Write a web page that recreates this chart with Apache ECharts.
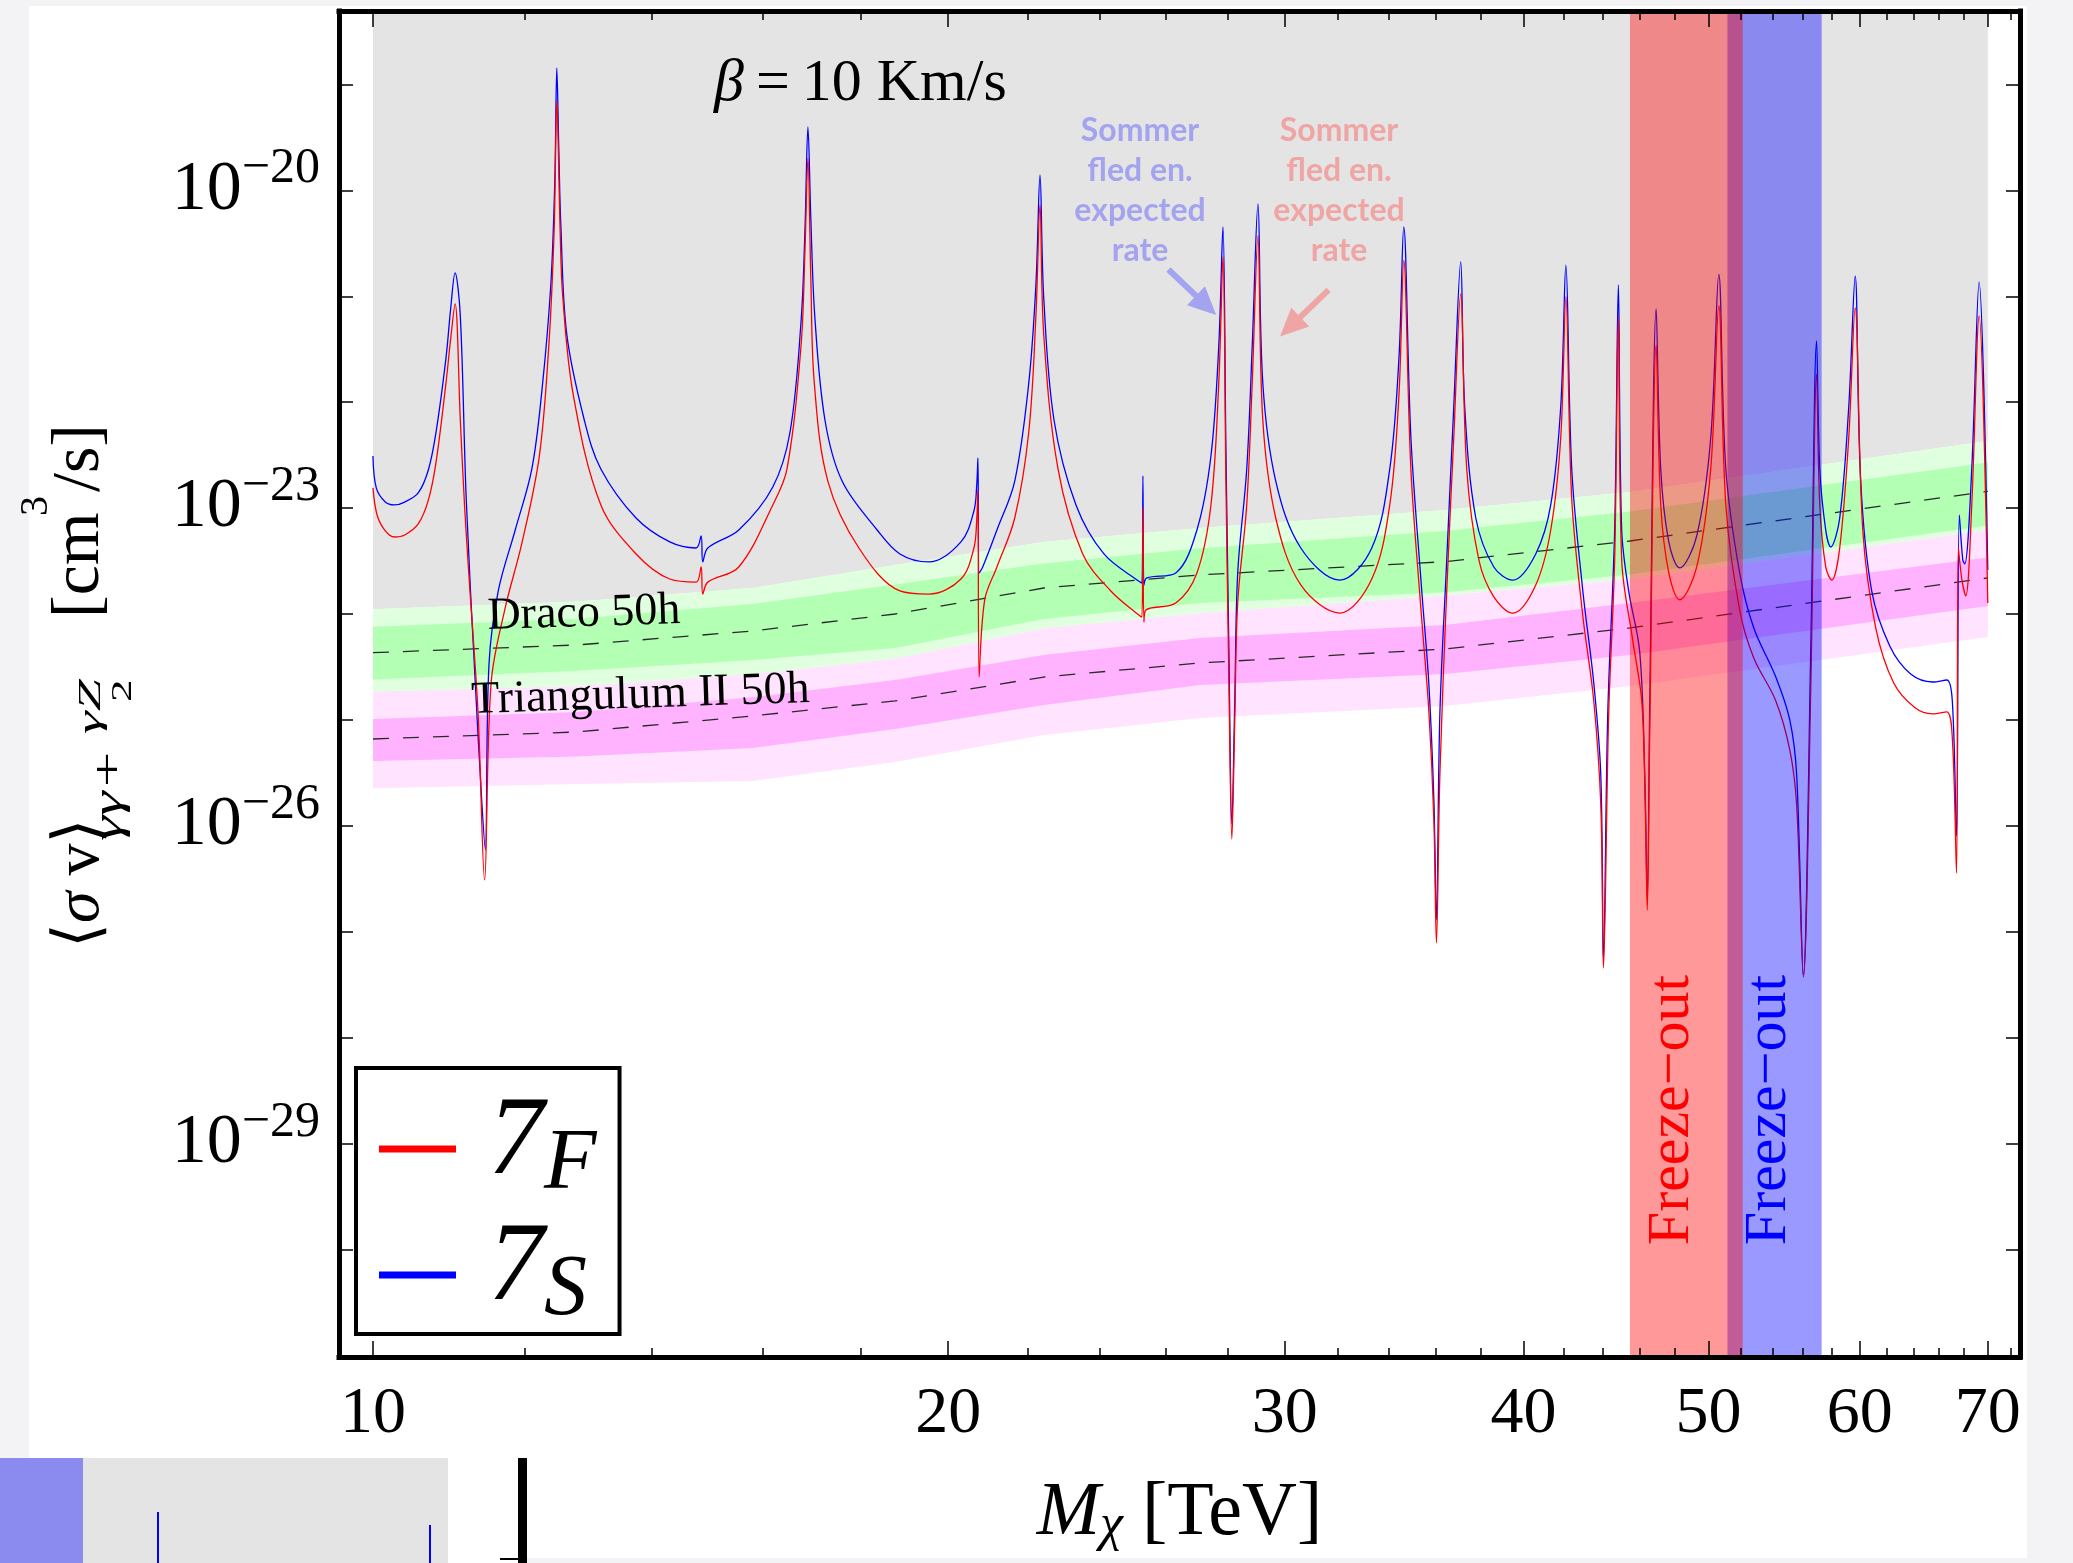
<!DOCTYPE html>
<html>
<head>
<meta charset="utf-8">
<script src="https://cdn.jsdelivr.net/npm/echarts@6/dist/echarts.min.js"></script>
<style>
  html, body { margin: 0; padding: 0; background: #f3f3f5; }
  #chart { width: 2073px; height: 1563px; }
</style>
</head>
<body>
<div id="chart"></div>
<script>
// Annihilation rate <sigma v> (cm^3/s) versus dark matter mass M (TeV), beta = 10 km/s.
// Each curve is a list of [mass, rate] pairs.
const sevenS = [
  [10.00,3.10e-23],[10.04,1.55e-23],[10.15,1.14e-23],[10.26,1.07e-23],[10.39,1.14e-23],[10.56,1.39e-23],
  [10.69,2.29e-23],[10.79,5.23e-23],[10.92,2.62e-22],[10.98,7.42e-22],[11.04,1.66e-21],[11.11,6.52e-22],
  [11.19,1.19e-23],[11.31,2.38e-25],[11.40,1.75e-26],[11.45,5.91e-27],[11.50,3.30e-25],[11.63,1.65e-24],
  [11.87,6.21e-24],[12.11,2.34e-23],[12.26,1.33e-22],[12.39,1.28e-21],[12.45,1.25e-20],[12.48,1.43e-19],
  [12.51,2.41e-20],[12.54,4.82e-21],[12.63,4.41e-22],[12.90,6.79e-23],[13.16,2.34e-23],[13.73,8.06e-24],
  [14.30,4.79e-24],[14.76,4.20e-24],[14.85,5.45e-24],[14.88,3.10e-24],[14.97,4.20e-24],[15.54,6.21e-24],
  [16.19,1.58e-23],[16.53,5.23e-23],[16.75,5.72e-22],[16.83,4.23e-21],[16.89,3.97e-20],[16.95,5.25e-21],
  [17.03,6.52e-22],[17.24,6.79e-23],[17.60,1.80e-23],[18.36,6.21e-24],[18.87,3.69e-24],[19.54,3.10e-24],
  [20.31,4.79e-24],[20.63,9.39e-24],[20.70,1.65e-23],[20.73,2.97e-23],[20.76,2.44e-24],[20.85,2.78e-24],
  [21.21,6.21e-24],[21.67,1.80e-23],[22.04,1.52e-22],[22.23,1.28e-21],[22.34,1.40e-20],[22.44,9.85e-22],
  [22.72,6.79e-23],[23.33,1.07e-23],[24.13,3.69e-24],[25.20,2.00e-24],[25.26,1.96e-24],[25.29,2.01e-23],
  [25.32,1.88e-24],[25.41,2.19e-24],[26.31,2.44e-24],[26.99,6.21e-24],[27.45,3.10e-23],[27.71,3.39e-22],
  [27.85,4.51e-21],[27.95,3.54e-23],[28.05,4.57e-25],[28.15,1.04e-26],[28.25,1.54e-25],[28.35,2.44e-24],
  [28.66,2.34e-23],[28.85,3.39e-22],[29.05,7.44e-21],[29.22,1.52e-22],[29.68,1.80e-23],[30.59,4.20e-24],
  [32.06,2.09e-24],[33.32,4.20e-24],[34.05,2.34e-23],[34.43,2.62e-22],[34.63,4.51e-21],[34.93,4.59e-23],
  [35.39,1.65e-24],[35.69,2.23e-25],[35.91,1.75e-26],[36.02,1.29e-27],[36.17,1.14e-25],[36.47,3.24e-24],
  [36.78,9.01e-23],[37.09,2.11e-21],[37.27,9.01e-23],[37.77,8.06e-24],[38.60,2.78e-24],[39.49,2.09e-24],
  [40.60,3.69e-24],[41.34,1.07e-23],[41.84,9.01e-23],[42.10,1.97e-21],[42.40,2.34e-23],[42.97,1.65e-24],
  [43.54,2.23e-25],[43.91,3.02e-26],[44.05,5.40e-28],[44.28,1.14e-25],[44.65,6.21e-24],[44.85,1.28e-21],
  [45.03,6.21e-24],[45.41,1.65e-24],[46.02,4.38e-25],[46.30,3.02e-26],[46.44,1.99e-27],[46.58,1.54e-25],
  [46.94,7.59e-22],[47.20,2.34e-23],[47.66,4.79e-24],[48.29,2.72e-24],[49.29,5.45e-24],[50.13,4.59e-23],
  [50.62,1.61e-21],[51.05,2.34e-23],[51.91,2.44e-24],[52.80,7.37e-25],[54.22,2.54e-25],[55.14,9.98e-26],
  [55.60,3.02e-26],[56.05,3.90e-28],[56.55,4.38e-25],[56.95,3.78e-22],[57.17,2.34e-23],[57.58,6.21e-24],
  [57.93,4.29e-24],[58.56,8.06e-24],[59.20,9.01e-23],[59.66,1.55e-21],[60.06,1.80e-23],[60.86,1.65e-24],
  [62.20,4.99e-25],[63.79,2.71e-25],[65.51,2.28e-25],[66.62,2.38e-25],[67.07,1.51e-25],[67.41,8.01e-27],
  [67.64,8.61e-24],[67.92,3.24e-24],[68.08,2.97e-24],[68.66,2.34e-23],[69.27,1.36e-21],[70.00,2.60e-24]
];

const sevenF = [
  [10.00,1.55e-23],[10.05,8.61e-24],[10.15,6.08e-24],[10.26,5.33e-24],[10.39,5.57e-24],[10.56,7.08e-24],
  [10.69,1.19e-23],[10.79,2.72e-23],[10.92,1.52e-22],[10.98,3.87e-22],[11.04,8.46e-22],[11.11,6.79e-23],
  [11.17,9.59e-24],[11.24,1.65e-24],[11.35,1.16e-25],[11.44,3.08e-27],[11.53,2.23e-25],[11.72,1.09e-24],
  [11.97,4.79e-24],[12.22,3.10e-23],[12.36,3.39e-22],[12.44,4.23e-21],[12.48,6.98e-20],[12.53,4.23e-21],
  [12.57,9.85e-22],[12.73,1.17e-22],[13.16,1.07e-23],[13.73,3.69e-24],[14.30,2.14e-24],[14.76,2.00e-24],
  [14.85,2.78e-24],[14.88,1.54e-24],[14.97,2.00e-24],[15.54,2.78e-24],[16.19,1.07e-23],[16.47,2.34e-23],
  [16.75,3.39e-22],[16.83,2.74e-21],[16.89,2.02e-20],[16.95,1.43e-21],[17.02,1.52e-22],[17.30,1.80e-23],
  [17.96,4.20e-24],[18.87,1.65e-24],[19.54,1.54e-24],[20.31,2.14e-24],[20.63,4.20e-24],[20.70,7.72e-24],
  [20.73,1.48e-23],[20.76,2.54e-25],[20.90,1.36e-24],[21.21,2.78e-24],[21.67,8.06e-24],[22.04,5.23e-23],
  [22.23,6.52e-22],[22.34,7.28e-21],[22.44,4.41e-22],[22.83,2.34e-23],[23.52,3.69e-24],[24.33,1.65e-24],
  [25.20,9.57e-25],[25.26,9.37e-25],[25.29,1.00e-23],[25.32,8.40e-25],[25.38,1.09e-24],[26.31,1.27e-24],
  [26.99,2.44e-24],[27.45,1.07e-23],[27.71,1.52e-22],[27.85,2.35e-21],[27.95,1.84e-23],[28.05,2.38e-25],
  [28.15,7.50e-27],[28.25,9.98e-26],[28.35,1.27e-24],[28.66,1.07e-23],[28.85,1.52e-22],[29.05,3.71e-21],
  [29.22,6.79e-23],[29.68,8.06e-24],[30.59,1.88e-24],[32.06,1.02e-24],[33.32,2.14e-24],[34.05,1.07e-23],
  [34.43,1.17e-22],[34.63,2.18e-21],[34.93,2.29e-23],[35.39,8.78e-25],[35.69,1.24e-25],[35.91,1.13e-26],
  [36.02,7.82e-28],[36.17,3.02e-26],[36.47,1.65e-24],[36.78,4.59e-23],[37.09,1.05e-21],[37.36,2.34e-23],
  [37.91,3.24e-24],[38.60,1.45e-24],[39.49,1.02e-24],[40.60,1.88e-24],[41.34,6.21e-24],[41.84,4.59e-23],
  [42.10,9.85e-22],[42.40,1.22e-23],[42.97,9.57e-25],[43.54,1.51e-25],[43.91,1.57e-26],[44.05,4.54e-28],
  [44.33,1.14e-25],[44.65,3.24e-24],[44.85,6.37e-22],[45.03,3.24e-24],[45.63,5.68e-25],[46.13,1.51e-25],
  [46.32,1.75e-26],[46.44,1.60e-27],[46.58,8.03e-26],[46.94,3.47e-22],[47.20,1.07e-23],[47.66,2.44e-24],
  [48.29,1.36e-24],[49.29,2.78e-24],[50.13,2.34e-23],[50.62,8.10e-22],[51.05,1.07e-23],[51.91,1.09e-24],
  [52.80,3.84e-25],[54.22,1.51e-25],[55.14,5.20e-26],[55.60,1.57e-26],[56.05,3.73e-28],[56.55,1.92e-25],
  [56.95,1.85e-22],[57.17,1.07e-23],[57.58,2.78e-24],[58.00,2.09e-24],[58.56,4.20e-24],[59.20,4.59e-23],
  [59.66,7.75e-22],[60.21,6.21e-24],[61.16,7.37e-25],[62.50,2.23e-25],[64.10,1.31e-25],[65.51,1.14e-25],
  [66.62,1.19e-25],[67.07,6.75e-26],[67.41,3.58e-27],[67.56,4.20e-24],[67.84,2.14e-24],[68.16,1.48e-24],
  [68.66,1.07e-23],[69.27,6.52e-22],[70.00,1.27e-24]
];

// Expected sensitivity, 50 h of observation: median with 1 sigma and 2 sigma bands
const bandMass    = [10, 12.79, 15.80, 18.76, 22.44, 27.09, 36.39, 45.48, 70];
const dracoUp2    = [1.11e-24, 1.31e-24, 1.76e-24, 2.90e-24, 4.79e-24, 6.49e-24, 9.60e-24, 1.42e-23, 4.30e-23];
const dracoUp1    = [7.59e-25, 9.03e-25, 1.24e-24, 1.90e-24, 2.99e-24, 4.17e-24, 6.08e-24, 9.29e-24, 2.70e-23];
const dracoMedian = [4.31e-25, 5.10e-25, 6.91e-25, 1.00e-24, 1.76e-24, 2.34e-24, 3.12e-24, 4.89e-24, 1.44e-23];
const dracoLo1    = [2.41e-25, 2.91e-25, 3.68e-25, 4.78e-25, 8.97e-25, 1.27e-24, 1.60e-24, 2.36e-24, 6.84e-24];
const dracoLo2    = [1.85e-25, 2.09e-25, 2.71e-25, 3.80e-25, 7.38e-25, 1.02e-24, 1.50e-24, 2.14e-24, 6.21e-24];
const triUp2      = [1.85e-25, 2.09e-25, 2.71e-25, 3.80e-25, 7.38e-25, 1.02e-24, 1.50e-24, 2.14e-24, 6.21e-24];
const triUp1      = [1.02e-25, 1.19e-25, 1.64e-25, 2.38e-25, 4.10e-25, 5.93e-25, 7.87e-25, 1.27e-24, 3.42e-24];
const triMedian   = [6.60e-26, 7.69e-26, 1.09e-25, 1.51e-25, 2.54e-25, 3.45e-25, 4.67e-25, 7.38e-25, 2.19e-24];
const triLo1      = [4.09e-26, 4.51e-26, 5.43e-26, 8.21e-26, 1.38e-25, 2.14e-25, 2.71e-25, 4.10e-25, 1.19e-24];
const triLo2      = [2.26e-26, 2.48e-26, 2.65e-26, 4.00e-26, 7.20e-26, 1.04e-25, 1.35e-25, 2.09e-25, 6.06e-25];

// Mass windows giving the observed relic density (TeV)
const freezeOutF = [45.48, 52.10];
const freezeOutS = [51.15, 57.30];

// Axes
const X_MIN = 9.599, X_MAX = 72.77;
const Y_MIN = 9.64e-32, Y_MAX = 4.94e-19;
const xMajorTicks = [10, 20, 30, 40, 50, 60, 70];
const xMinorTicks = [12, 14, 16, 18, 22, 24, 26, 28, 32, 34, 36, 38, 42, 44, 46, 48, 52, 54, 56, 58, 62, 64, 66, 68, 72];
const yTicks = [1e-31, 1e-30, 1e-29, 1e-28, 1e-27, 1e-26, 1e-25, 1e-24, 1e-23, 1e-22, 1e-21, 1e-20, 1e-19];
const yLabelValues = [1e-29, 1e-26, 1e-23, 1e-20];

// Arrow annotations: [start, end] in data coordinates
const arrowS = [[26.08, 1.79e-21], [27.29, 8.20e-22]];
const arrowF = [[31.63, 1.15e-21], [30.20, 5.15e-22]];

const SERIF = '"Liberation Serif", "DejaVu Serif", serif';

function polygonSeries(name, upper, lower, color, z) {
  return {
    type: 'custom', name: name, z: z, silent: true, clip: true,
    coordinateSystem: 'cartesian2d',
    data: [[bandMass[0], upper[0]]],
    renderItem: function (params, api) {
      const pts = [];
      for (let i = 0; i < bandMass.length; i++) pts.push(api.coord([bandMass[i], upper[i]]));
      for (let i = bandMass.length - 1; i >= 0; i--) pts.push(api.coord([bandMass[i], lower[i]]));
      return { type: 'polygon', shape: { points: pts }, style: { fill: color } };
    }
  };
}

function rectSeries(name, range, color, z) {
  return {
    type: 'custom', name: name, z: z, silent: true, clip: true,
    coordinateSystem: 'cartesian2d',
    data: [[range[0], Y_MIN]],
    renderItem: function (params, api) {
      const p0 = api.coord([range[0], Y_MAX]);
      const p1 = api.coord([range[1], Y_MIN]);
      return { type: 'rect', shape: { x: p0[0], y: p0[1], width: p1[0] - p0[0], height: p1[1] - p0[1] },
               style: { fill: color } };
    }
  };
}

function medianSeries(name, values) {
  return {
    type: 'line', name: name, z: 2, silent: true, symbol: 'none', showSymbol: false,
    data: bandMass.map((m, i) => [m, values[i]]),
    lineStyle: { color: '#2a2a2a', width: 1.3, type: [16, 14] }
  };
}

const xLabelFmt = function (v) {
  const m = v < 3 ? Math.pow(10, v) : v;
  return String(Math.round(m));
};
const yLabelFmt = function (v) {
  const p = v < 0 ? Math.round(v) : Math.round(Math.log10(v));
  return '{b|10}{e|\u2212' + Math.abs(p) + '}';
};

const tickLine = { color: '#000', width: 1.5 };
const frameLine = { show: true, lineStyle: { color: '#000', width: 5, cap: 'square' } };
const xBase = { type: 'log', logBase: 10, min: X_MIN, max: X_MAX, splitLine: { show: false }, minorTick: { show: false }, z: 10 };
const yBase = { type: 'log', logBase: 10, min: Y_MIN, max: Y_MAX, splitLine: { show: false }, minorTick: { show: false }, z: 10 };

const option = {
  animation: false,
  backgroundColor: '#f3f3f5',
  grid: { left: 339, top: 11, right: 53, bottom: 206, containLabel: false, outerBoundsMode: 'none' },
  xAxis: [
    Object.assign({}, xBase, {
      position: 'bottom',
      axisLine: frameLine,
      axisTick: { show: true, inside: true, length: 16, lineStyle: tickLine, customValues: xMajorTicks },
      axisLabel: { show: true, customValues: xMajorTicks, margin: 25, formatter: xLabelFmt,
                   fontFamily: SERIF, fontSize: 66, lineHeight: 66, color: '#000' },
      name: '{m|M}{c|\u03c7}{t| [TeV]}',
      nameLocation: 'middle', nameGap: 119,
      nameTextStyle: {
        color: '#000', fontFamily: SERIF, fontSize: 76,
        rich: {
          m: { fontFamily: SERIF, fontStyle: 'italic', fontSize: 76, lineHeight: 76, color: '#000' },
          c: { fontFamily: SERIF, fontStyle: 'italic', fontSize: 52, lineHeight: 44, verticalAlign: 'bottom', color: '#000' },
          t: { fontFamily: SERIF, fontSize: 76, lineHeight: 76, color: '#000' }
        }
      }
    }),
    Object.assign({}, xBase, {
      position: 'bottom', axisLine: { show: false },
      axisTick: { show: true, inside: true, length: 9, lineStyle: tickLine, customValues: xMinorTicks },
      axisLabel: { show: false }
    }),
    Object.assign({}, xBase, {
      position: 'top', axisLine: frameLine,
      axisTick: { show: true, inside: true, length: 16, lineStyle: tickLine, customValues: xMajorTicks },
      axisLabel: { show: false }
    }),
    Object.assign({}, xBase, {
      position: 'top', axisLine: { show: false },
      axisTick: { show: true, inside: true, length: 9, lineStyle: tickLine, customValues: xMinorTicks },
      axisLabel: { show: false }
    })
  ],
  yAxis: [
    Object.assign({}, yBase, {
      position: 'left', axisLine: frameLine,
      axisTick: { show: true, inside: true, length: 14, lineStyle: tickLine, customValues: yTicks },
      axisLabel: {
        show: true, customValues: yLabelValues, margin: 19, formatter: yLabelFmt,
        rich: {
          b: { fontFamily: SERIF, fontSize: 70, lineHeight: 92, verticalAlign: 'middle', color: '#000' },
          e: { fontFamily: SERIF, fontSize: 50, verticalAlign: 'top', color: '#000' }
        }
      }
    }),
    Object.assign({}, yBase, {
      position: 'right', axisLine: frameLine,
      axisTick: { show: true, inside: true, length: 14, lineStyle: tickLine, customValues: yTicks },
      axisLabel: { show: false }
    })
  ],
  legend: {
    left: 356, top: 1068, orient: 'vertical', selectedMode: false,
    padding: [20, 23, 0, 23], itemGap: 6,
    borderColor: '#000', borderWidth: 4, backgroundColor: '#fff',
    itemWidth: 77, itemHeight: 7, icon: 'rect',
    data: [{ name: '7F' }, { name: '7S' }],
    formatter: function (name) { return name === '7F' ? '{n|7}{s|F}' : '{n|7}{s|S}'; },
    textStyle: {
      padding: [0, 0, 2, 27],
      rich: {
        n: { fontFamily: SERIF, fontStyle: 'italic', fontSize: 112, verticalAlign: 'top', color: '#000' },
        s: { fontFamily: SERIF, fontStyle: 'italic', fontSize: 86, verticalAlign: 'top', padding: [34, 0, 0, 0], color: '#000' }
      }
    },
    z: 20
  },
  series: [
    // excluded region above the Draco reach
    {
      type: 'custom', name: 'excluded', z: 1, silent: true, clip: true, coordinateSystem: 'cartesian2d',
      data: [[bandMass[0], dracoUp2[0]]],
      renderItem: function (params, api) {
        const pts = [];
        for (let i = 0; i < bandMass.length; i++) pts.push(api.coord([bandMass[i], dracoUp2[i]]));
        pts.push(api.coord([bandMass[bandMass.length - 1], Y_MAX]));
        pts.push(api.coord([bandMass[0], Y_MAX]));
        return { type: 'polygon', shape: { points: pts }, style: { fill: '#e4e4e4' } };
      }
    },
    polygonSeries('Triangulum II 2σ', triUp2, triLo2, '#ffe3ff', 1),
    polygonSeries('Triangulum II 1σ', triUp1, triLo1, '#ffb3ff', 1),
    polygonSeries('Draco 2σ', dracoUp2, dracoLo2, '#dfffdf', 1),
    polygonSeries('Draco 1σ', dracoUp1, dracoLo1, '#b3ffb3', 1),
    medianSeries('Draco median', dracoMedian),
    medianSeries('Triangulum II median', triMedian),
    {
      type: 'line', name: '7S', data: sevenS, z: 3, symbol: 'none', showSymbol: false, clip: true, smooth: 0.35,
      color: '#0000ff', lineStyle: { color: '#0000ff', width: 1.3 }, silent: true
    },
    {
      type: 'line', name: '7F', data: sevenF, z: 3, symbol: 'none', showSymbol: false, clip: true, smooth: 0.35,
      color: '#ff0000', lineStyle: { color: '#ff0000', width: 1.3 }, silent: true
    },
    rectSeries('freeze-out 7S', freezeOutS, 'rgba(0,0,255,0.4)', 4),
    rectSeries('freeze-out 7F', freezeOutF, 'rgba(255,0,0,0.4)', 4),
    {
      type: 'line', name: 'arrows', data: [], z: 5, silent: true,
      markLine: {
        silent: true, animation: false, symbol: ['none', 'triangle'], symbolSize: [26, 28],
        label: { show: false }, emphasis: { disabled: true },
        data: [
          [{ coord: arrowS[0], lineStyle: { color: '#a3a3f0', width: 6, type: 'solid' }, itemStyle: { color: '#a3a3f0' } },
           { coord: arrowS[1] }],
          [{ coord: arrowF[0], lineStyle: { color: '#f0a5a5', width: 6, type: 'solid' }, itemStyle: { color: '#f0a5a5' } },
           { coord: arrowF[1] }]
        ]
      }
    }
  ],
  graphic: {
    elements: [
      // page panels
      { type: 'rect', z: -10, silent: true, shape: { x: 29, y: 6, width: 1998, height: 1552 }, style: { fill: '#ffffff' } },
      { type: 'rect', z: -9, silent: true, shape: { x: 0, y: 1458, width: 83, height: 105 }, style: { fill: '#8b8bef' } },
      { type: 'rect', z: -9, silent: true, shape: { x: 83, y: 1458, width: 365, height: 105 }, style: { fill: '#e4e4e4' } },
      { type: 'rect', z: -9, silent: true, shape: { x: 448, y: 1458, width: 70, height: 105 }, style: { fill: '#ffffff' } },
      { type: 'rect', z: -9, silent: true, shape: { x: 518, y: 1458, width: 9, height: 105 }, style: { fill: '#000000' } },
      { type: 'rect', z: -9, silent: true, shape: { x: 500, y: 1558, width: 18, height: 2 }, style: { fill: '#000000' } },
      { type: 'rect', z: -9, silent: true, shape: { x: 157, y: 1512, width: 2, height: 51 }, style: { fill: '#0000ff' } },
      { type: 'rect', z: -9, silent: true, shape: { x: 429, y: 1525, width: 2, height: 38 }, style: { fill: '#0000ff' } },

      // velocity
      { type: 'text', z: 30, silent: true, x: 714, y: 84,
        style: { text: '{i|\u03b2}{r|\u2009=\u200910 Km/s}', textAlign: 'left', verticalAlign: 'middle', fill: '#000',
                 rich: { i: { fontFamily: SERIF, fontStyle: 'italic', fontSize: 60 }, r: { fontFamily: SERIF, fontSize: 60 } } } },

      // Sommerfeld notes
      { type: 'text', z: 30, silent: true, x: 1140, y: 111,
        style: { text: 'Sommer\nfled en.\nexpected\nrate', fontFamily: 'Lato', fontWeight: 'bold', fontSize: 32, lineHeight: 40,
                 textAlign: 'center', verticalAlign: 'top', fill: '#a3a3f0' } },
      { type: 'text', z: 30, silent: true, x: 1339, y: 111,
        style: { text: 'Sommer\nfled en.\nexpected\nrate', fontFamily: 'Lato', fontWeight: 'bold', fontSize: 32, lineHeight: 40,
                 textAlign: 'center', verticalAlign: 'top', fill: '#f0a5a5' } },

      // band names
      { type: 'text', z: 30, silent: true, x: 488, y: 633, rotation: 0.031,
        style: { text: 'Draco 50h', fontFamily: SERIF, fontSize: 46, fill: '#000', textAlign: 'left', verticalAlign: 'middle', y: -16 } },
      { type: 'text', z: 30, silent: true, x: 472, y: 717, rotation: 0.033,
        style: { text: 'Triangulum II 50h', fontFamily: SERIF, fontSize: 46, fill: '#000', textAlign: 'left', verticalAlign: 'middle', y: -16 } },

      // freeze-out labels
      { type: 'text', z: 30, silent: true, x: 1672, y: 1110, rotation: Math.PI / 2,
        style: { text: 'Freeze\u2212out', fontFamily: SERIF, fontSize: 60, fill: '#ff0000', textAlign: 'center', verticalAlign: 'middle' } },
      { type: 'text', z: 30, silent: true, x: 1769, y: 1110, rotation: Math.PI / 2,
        style: { text: 'Freeze\u2212out', fontFamily: SERIF, fontSize: 60, fill: '#0000ff', textAlign: 'center', verticalAlign: 'middle' } },

      // y axis title
      { type: 'group', x: 103, y: 948, rotation: Math.PI / 2, silent: true, z: 30,
        children: [
          { type: 'text', x: 0, y: 0, z: 30,
            style: { text: '{a|\u27e8}{i|\u03c3}{a| v\u27e9}', textAlign: 'left', verticalAlign: 'middle', y: -22, fill: '#000',
                     rich: { a: { fontFamily: SERIF, fontSize: 64 }, i: { fontFamily: SERIF, fontStyle: 'italic', fontSize: 64 } } } },
          { type: 'text', x: 107, y: 21, scaleX: 1.5, z: 30,
            style: { text: '\u03b3\u03b3+', fontFamily: SERIF, fontStyle: 'italic', fontSize: 42, textAlign: 'left', verticalAlign: 'middle', y: -14, fill: '#000' } },
          { type: 'text', x: 214, y: 0, scaleX: 1.8, z: 30,
            style: { text: '\u03b3Z', fontFamily: SERIF, fontStyle: 'italic', fontSize: 32, textAlign: 'left', verticalAlign: 'middle', y: -11, fill: '#000' } },
          { type: 'text', x: 246, y: 30, scaleX: 1.5, z: 30,
            style: { text: '2', fontFamily: SERIF, fontSize: 30, textAlign: 'left', verticalAlign: 'middle', y: -10, fill: '#000' } },
          { type: 'text', x: 330, y: 0, z: 30,
            style: { text: '[cm', fontFamily: SERIF, fontSize: 68, textAlign: 'left', verticalAlign: 'middle', y: -23, fill: '#000' } },
          { type: 'text', x: 432, y: -54, z: 30,
            style: { text: '3', fontFamily: SERIF, fontSize: 40, textAlign: 'left', verticalAlign: 'middle', y: -13, fill: '#000' } },
          { type: 'text', x: 456, y: 0, z: 30,
            style: { text: '/s]', fontFamily: SERIF, fontSize: 68, textAlign: 'left', verticalAlign: 'middle', y: -23, fill: '#000' } }
        ] }
    ]
  }
};

const chart = echarts.init(document.getElementById('chart'), null, { renderer: 'canvas' });
chart.setOption(option);
</script>
</body>
</html>
